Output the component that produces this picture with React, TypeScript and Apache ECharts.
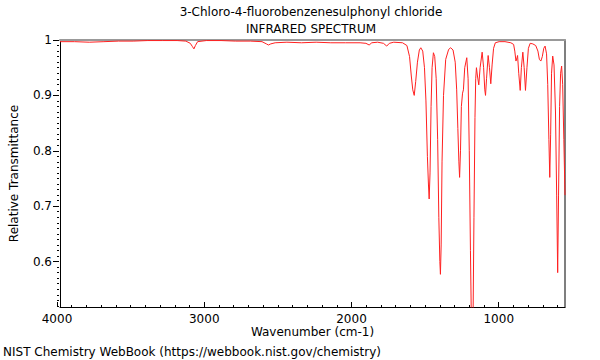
import React, { useEffect, useRef } from "react";
import * as echarts from "echarts";

const titleLine1 = "3-Chloro-4-fluorobenzenesulphonyl chloride";
const titleLine2 = "INFRARED SPECTRUM";
const xAxisName = "Wavenumber (cm-1)";
const yAxisName = "Relative Transmittance";
const footer = "NIST Chemistry WebBook (https://webbook.nist.gov/chemistry)";

const wavenumbers = [
  4000, 3900, 3800, 3700, 3600, 3500, 3400, 3300, 3200, 3140, 3110, 3095, 3085, 3075, 3060,
  3000, 2900, 2800, 2700, 2620, 2590, 2576, 2560, 2530, 2450, 2350, 2250, 2150, 2050, 1950,
  1910, 1888, 1870, 1830, 1790, 1768, 1750, 1720, 1660, 1630, 1612, 1600, 1590, 1580, 1570,
  1558, 1545, 1535, 1522, 1510, 1500, 1490, 1483, 1478, 1472, 1465, 1458, 1449, 1440, 1430,
  1420, 1412, 1405, 1401, 1396, 1390, 1380, 1365, 1345, 1331, 1315, 1300, 1290, 1282, 1275,
  1270, 1264, 1258, 1250, 1244, 1235, 1221, 1212, 1204, 1196, 1190, 1184, 1178, 1172, 1165,
  1160, 1155, 1148, 1139, 1130, 1116, 1106, 1098, 1093, 1086, 1075, 1066, 1057, 1048, 1038,
  1026, 1000, 960, 920, 901, 893, 885, 878, 874, 866, 856, 848, 838, 829, 820,
  810, 800, 788, 770, 750, 735, 725, 715, 705, 695, 686, 676, 668, 660, 654,
  648, 642, 634, 625, 615, 607, 600, 594, 587, 580, 573, 566, 558, 550,
];

const transmittance = [
  0.997, 0.997, 0.996, 0.997, 0.998, 0.998, 0.999, 0.999, 0.999, 0.998, 0.994, 0.988, 0.984, 0.99, 0.997,
  0.999, 0.999, 0.998, 0.998, 0.997, 0.993, 0.991, 0.993, 0.995, 0.996, 0.995, 0.996, 0.995, 0.995, 0.995,
  0.994, 0.991, 0.995, 0.996, 0.994, 0.989, 0.994, 0.996, 0.995, 0.99, 0.97, 0.935, 0.91, 0.9, 0.925,
  0.96, 0.982, 0.986, 0.98, 0.95, 0.89, 0.79, 0.74, 0.713, 0.76, 0.88, 0.95, 0.977, 0.97, 0.93,
  0.82, 0.68, 0.6, 0.577, 0.63, 0.78, 0.9, 0.965, 0.983, 0.986, 0.982, 0.96, 0.91, 0.84, 0.78,
  0.752, 0.8, 0.88, 0.904, 0.91, 0.95, 0.968, 0.93, 0.8, 0.62, 0.5, 0.45, 0.5, 0.68, 0.86,
  0.93, 0.95, 0.935, 0.919, 0.95, 0.978, 0.95, 0.91, 0.9, 0.93, 0.972, 0.95, 0.921, 0.955, 0.985,
  0.995, 0.997, 0.997, 0.995, 0.992, 0.98, 0.962, 0.968, 0.972, 0.94, 0.909, 0.95, 0.978, 0.95, 0.909,
  0.95, 0.985, 0.994, 0.993, 0.99, 0.98, 0.965, 0.962, 0.97, 0.985, 0.989, 0.975, 0.92, 0.82, 0.752,
  0.83, 0.94, 0.971, 0.955, 0.87, 0.72, 0.58, 0.72, 0.88, 0.94, 0.953, 0.92, 0.82, 0.72,
];

const X_MIN = 550;
const X_MAX = 4000;
const Y_MIN = 0.518;
const Y_MAX = 1.0;

export default function App() {
  const ref = useRef<HTMLDivElement>(null);

  useEffect(() => {
    if (!ref.current) return;
    const chart = echarts.init(ref.current, undefined, { renderer: "svg" });

    const left = 57;
    const top = 40;
    const width = 508;
    const height = 267;
    const pxPerX = width / (X_MAX - X_MIN);
    const pxPerY = height / (Y_MAX - Y_MIN);
    const font = "DejaVu Sans";

    const hiddenX = (gridIndex: number) => ({ type: "value", gridIndex, show: false, min: 0, max: 1 });
    const hiddenY = (gridIndex: number) => ({ type: "value", gridIndex, show: false, min: 0, max: 1 });
    const titleStyle = { fontFamily: font, fontSize: 12, fontWeight: "normal", color: "#000" };

    const option: any = {
      animation: false,
      backgroundColor: "#ffffff",
      textStyle: { fontFamily: font },
      title: [
        { text: titleLine1, left: 311, top: 6, padding: 0, textAlign: "center", textStyle: titleStyle },
        { text: titleLine2, left: 311, top: 23, padding: 0, textAlign: "center", textStyle: titleStyle },
        { text: footer, left: 3, top: 346, padding: 0, textStyle: titleStyle },
      ],
      grid: [
        { left, top, width, height, show: false },
        { left, top, width: (X_MAX - 600) * pxPerX, height, show: false },
        { left, top, width: (X_MAX - 1000) * pxPerX, height, show: false },
        { left, top, width, height: (Y_MAX - 0.52) * pxPerY, show: false },
        { left, top, width, height: (Y_MAX - 0.6) * pxPerY, show: false },
      ],
      xAxis: [
        {
          type: "value",
          gridIndex: 0,
          min: X_MIN,
          max: X_MAX,
          inverse: true,
          position: "bottom",
          axisLine: { show: true, lineStyle: { color: "#000", width: 1 } },
          axisTick: { show: false },
          axisLabel: { show: false },
          splitLine: { show: false },
          name: xAxisName,
          nameLocation: "middle",
          nameGap: 19,
          nameTextStyle: { fontFamily: font, fontSize: 12, color: "#000", verticalAlign: "top" },
        },
        {
          type: "value",
          gridIndex: 0,
          min: X_MIN,
          max: X_MAX,
          inverse: true,
          position: "top",
          axisLine: { show: true, lineStyle: { color: "#999", width: 2 } },
          axisTick: { show: false },
          axisLabel: { show: false },
          splitLine: { show: false },
        },
        {
          type: "value",
          gridIndex: 1,
          min: 600,
          max: X_MAX,
          interval: 100,
          inverse: true,
          position: "bottom",
          axisLine: { show: false },
          axisTick: { show: true, inside: true, length: 2, lineStyle: { color: "#000" } },
          axisLabel: { show: false },
          splitLine: { show: false },
        },
        {
          type: "value",
          gridIndex: 2,
          min: 1000,
          max: X_MAX,
          interval: 1000,
          inverse: true,
          position: "bottom",
          axisLine: { show: false },
          axisTick: { show: true, inside: true, length: 5, lineStyle: { color: "#000" } },
          axisLabel: {
            show: true,
            margin: 6,
            fontFamily: font,
            fontSize: 12,
            color: "#000",
            formatter: (v: number) => String(v),
          },
          splitLine: { show: false },
        },
        hiddenX(3),
        hiddenX(4),
      ],
      yAxis: [
        {
          type: "value",
          gridIndex: 0,
          min: Y_MIN,
          max: Y_MAX,
          position: "left",
          axisLine: { show: true, lineStyle: { color: "#000", width: 1 } },
          axisTick: { show: false },
          axisLabel: { show: false },
          splitLine: { show: false },
          name: yAxisName,
          nameLocation: "middle",
          nameGap: 40,
          nameTextStyle: { fontFamily: font, fontSize: 12, color: "#000" },
        },
        {
          type: "value",
          gridIndex: 0,
          min: Y_MIN,
          max: Y_MAX,
          position: "right",
          axisLine: { show: true, lineStyle: { color: "#555", width: 1.5 } },
          axisTick: { show: false },
          axisLabel: { show: false },
          splitLine: { show: false },
        },
        hiddenY(1),
        hiddenY(2),
        {
          type: "value",
          gridIndex: 3,
          min: 0.52,
          max: Y_MAX,
          interval: 0.01,
          position: "left",
          axisLine: { show: false },
          axisTick: { show: true, inside: true, length: 2, lineStyle: { color: "#000" } },
          axisLabel: { show: false },
          splitLine: { show: false },
        },
        {
          type: "value",
          gridIndex: 4,
          min: 0.6,
          max: Y_MAX,
          interval: 0.1,
          position: "left",
          axisLine: { show: false },
          axisTick: { show: true, inside: false, length: 4, lineStyle: { color: "#000" } },
          axisLabel: {
            show: true,
            margin: 5,
            fontFamily: font,
            fontSize: 12,
            color: "#000",
            formatter: (v: number) => (Math.abs(v - 1) < 1e-9 ? "1" : v.toFixed(1)),
          },
          splitLine: { show: false },
        },
      ],
      series: [
        {
          type: "line",
          xAxisIndex: 0,
          yAxisIndex: 0,
          data: wavenumbers.map((w, i) => [w, transmittance[i]]),
          showSymbol: false,
          symbol: "none",
          clip: true,
          lineStyle: { color: "#ff2020", width: 1 },
          z: 1,
        },
      ],
    };

    chart.setOption(option);
    return () => chart.dispose();
  }, []);

  return (
    <div
      ref={ref}
      style={{ position: "fixed", left: 0, top: 0, width: 600, height: 360 }}
    />
  );
}
